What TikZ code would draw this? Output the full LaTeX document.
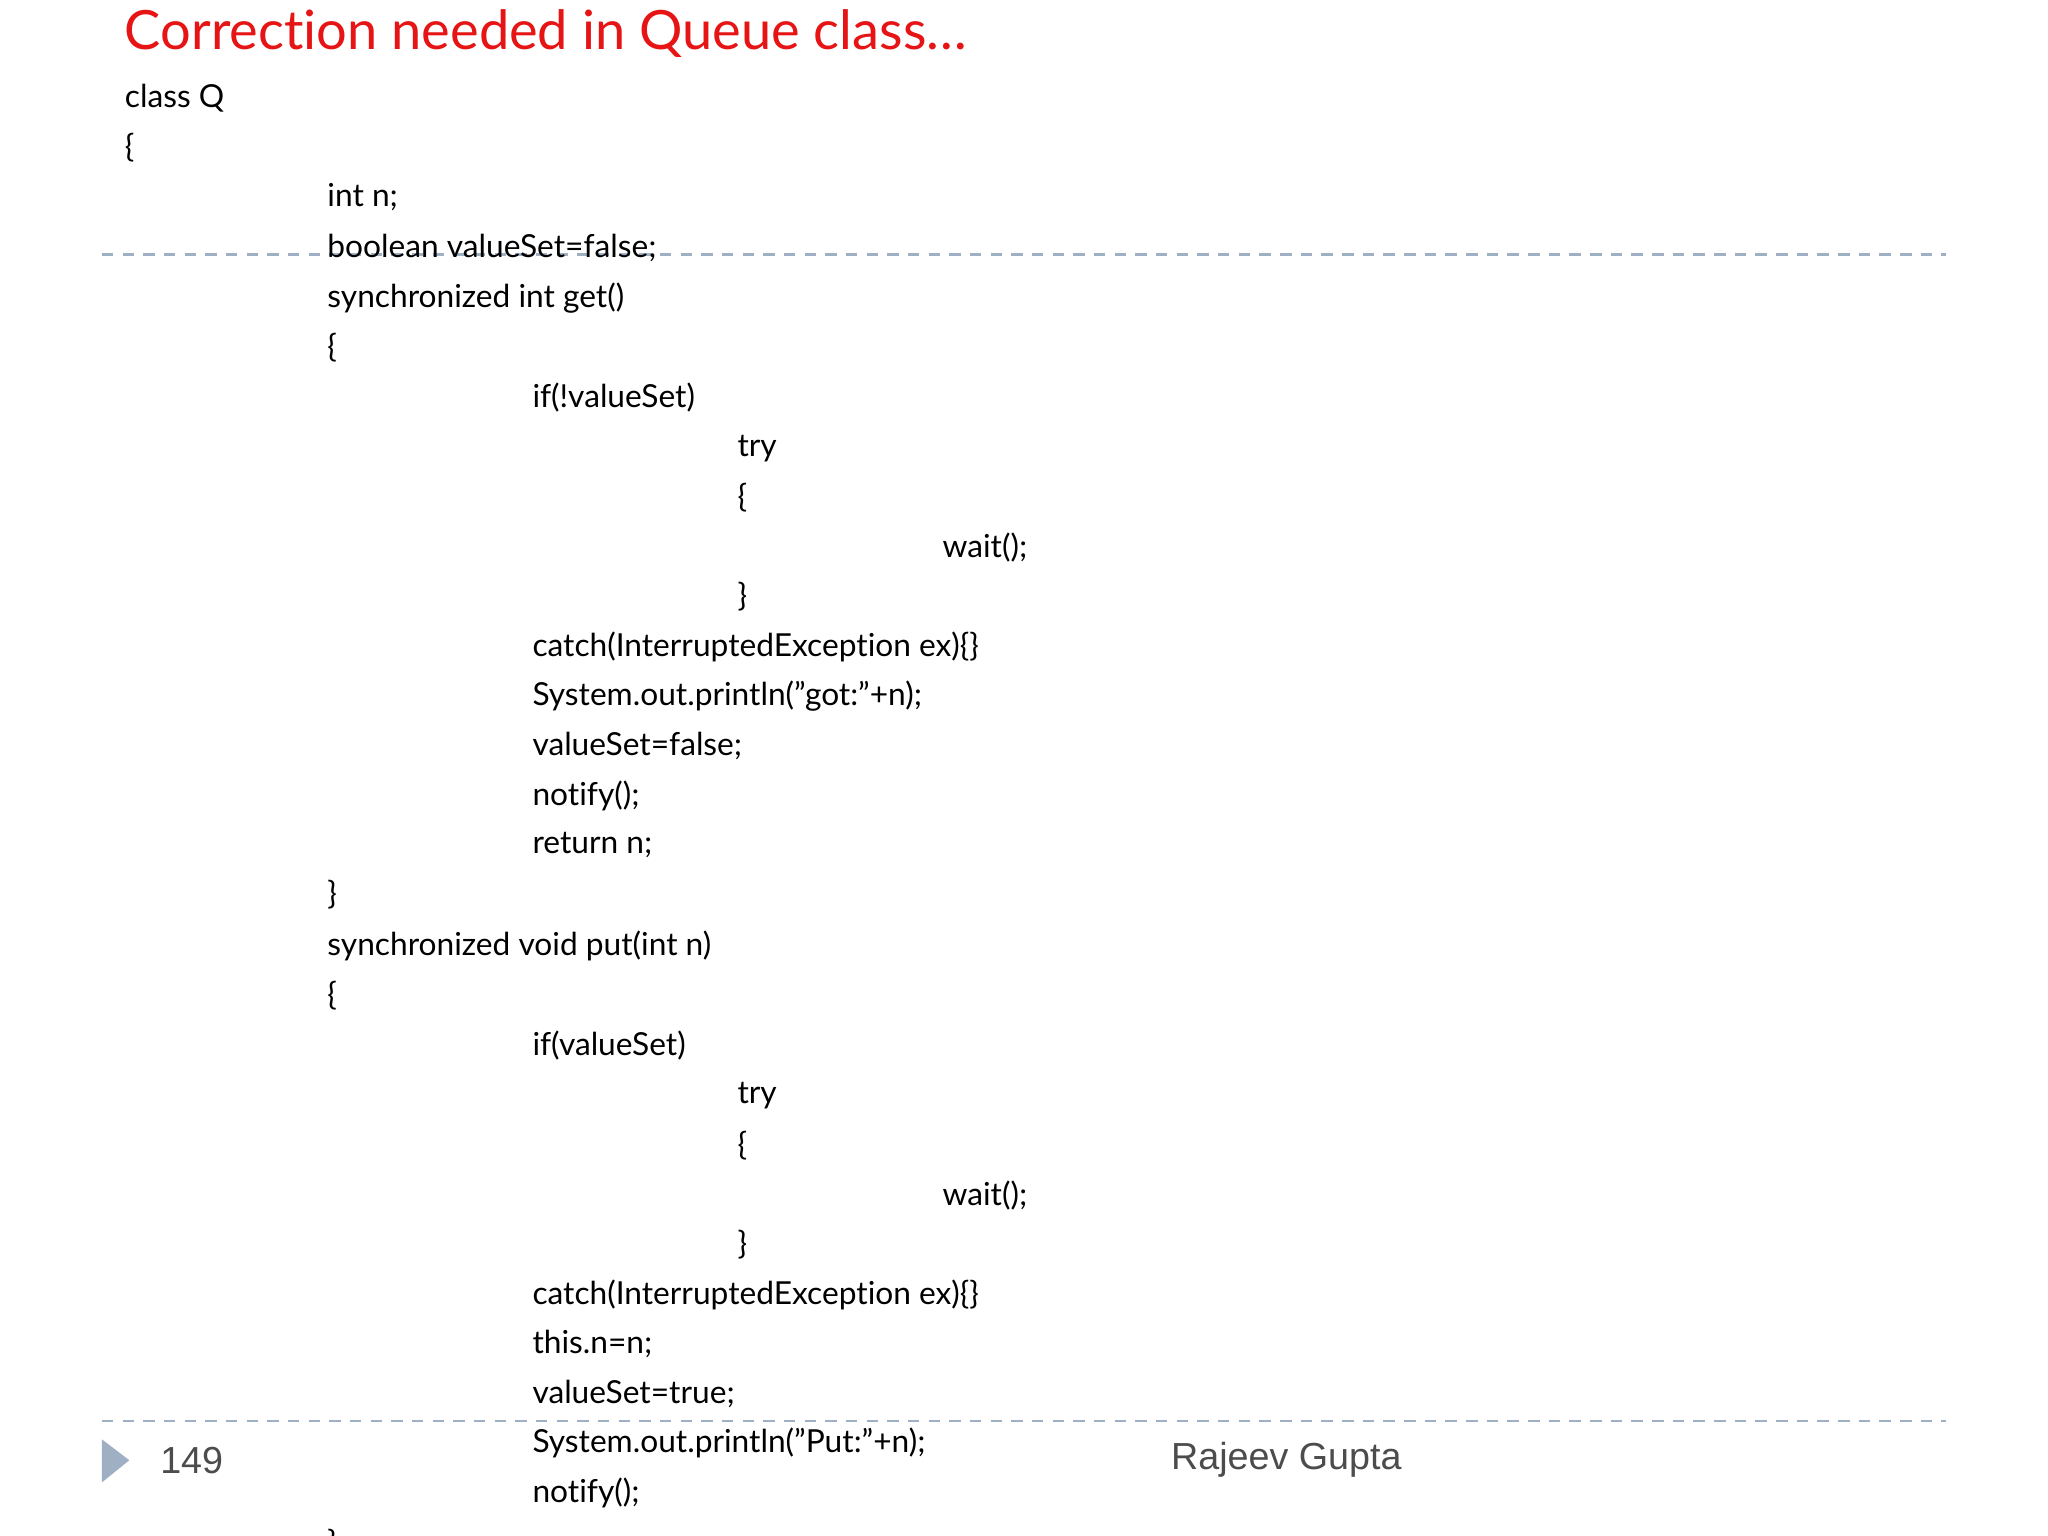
\documentclass[tikz,border=0pt]{standalone}
\usepackage{fontspec}
\setmainfont[Ligatures={ResetAll,NoCommon,NoDiscretionary}]{Lato}
\newfontfamily\footfont{Liberation Sans}
\definecolor{titlered}{RGB}{230,20,20}
\definecolor{dashc}{RGB}{160,176,196}
\begin{document}
\begin{tikzpicture}[x=0.01cm,y=-0.01cm,
  code/.style={anchor=west,inner sep=0pt,font=\fontsize{6.9}{8}\selectfont},
  foot/.style={anchor=west,inner sep=0pt,font=\footfont\fontsize{8.2}{9}\selectfont,text=black!70}]
\useasboundingbox (0,0) rectangle (1568,1176);
\clip (0,0) rectangle (1568,1176);
\fill[white] (0,0) rectangle (1568,1176);
\node[anchor=west,inner sep=0pt,text=titlered,font=\fontsize{11.8}{13}\selectfont] (title) at (95,26) {Correction needed in Queue class…};
\draw[dashc,line width=0.6pt,dash pattern=on 2.5pt off 2pt] (78,195) -- (1490,195);
\draw[dashc,line width=0.6pt,dash pattern=on 2.5pt off 2pt] (78,1088) -- (1490,1088);
\begin{scope}[yshift=-0.6pt]
\node[code] (l1) at (95,73) {class Q};
\node[code] (l2) at (95,111) {\{};
\node[code] (l3) at (250,149) {int n;};
\node[code] (l4) at (250,188) {boolean valueSet=false;};
\node[code] (l5) at (250,226) {synchronized int get()};
\node[code] (l6) at (250,264) {\{};
\node[code] (l7) at (407,302) {if(!valueSet)};
\node[code] (l8) at (564,341) {try};
\node[code] (l9) at (564,379) {\{};
\node[code] (l10) at (721,417) {wait();};
\node[code] (l11) at (564,455) {\}};
\node[code] (l12) at (407,493) {catch(InterruptedException ex)\{\}};
\node[code] (l13) at (407,531) {System.out.println("got:"+n);};
\node[code] (l14) at (407,569) {valueSet=false;};
\node[code] (l15) at (407,607) {notify();};
\node[code] (l16) at (407,645) {return n;};
\node[code] (l17) at (250,683) {\}};
\node[code] (l18) at (250,722) {synchronized void put(int n)};
\node[code] (l19) at (250,760) {\{};
\node[code] (l20) at (407,798) {if(valueSet)};
\node[code] (l21) at (564,837) {try};
\node[code] (l22) at (564,875) {\{};
\node[code] (l23) at (721,913) {wait();};
\node[code] (l24) at (564,951) {\}};
\node[code] (l25) at (407,989) {catch(InterruptedException ex)\{\}};
\node[code] (l26) at (407,1027) {this.n=n;};
\node[code] (l27) at (407,1065) {valueSet=true;};
\node[code] (l28) at (407,1103) {System.out.println("Put:"+n);};
\node[code] (l29) at (407,1141) {notify();};
\node[code] (l30) at (250,1180) {\}};
\end{scope}
\fill[dashc] (78,1102) -- (99,1118) -- (78,1135) -- cycle;
\node[foot] (pg) at (122,1118) {149};
\node[foot] (auth) at (896,1118) {Rajeev Gupta};
\end{tikzpicture}
\end{document}
